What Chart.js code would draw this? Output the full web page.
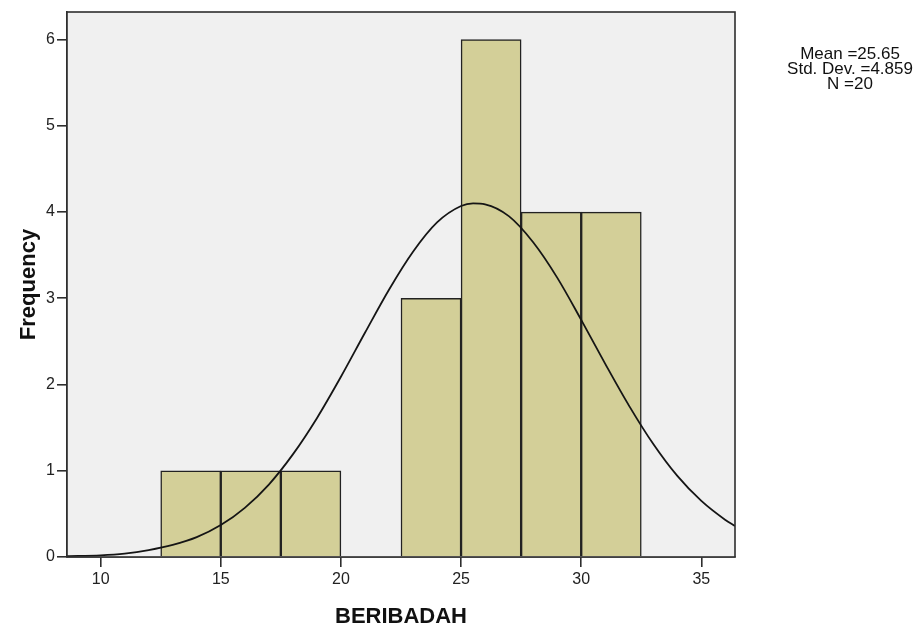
<!DOCTYPE html>
<html>
<head>
<meta charset="utf-8">
<script src="https://cdn.jsdelivr.net/npm/chart.js@4.4.1/dist/chart.umd.min.js"></script>
<style>
  html, body { margin: 0; padding: 0; background: #ffffff; }
  #wrap { width: 924px; height: 630px; position: relative; }
</style>
</head>
<body>
<div id="wrap"><canvas id="chart" width="924" height="630"></canvas></div>
<script>
// Histogram of BERIBADAH scores, bins of width 2.5
const binStarts = [12.5, 15, 17.5, 20, 22.5, 25, 27.5, 30];
const binWidth = 2.5;
const binCounts = [1, 1, 1, 0, 3, 6, 4, 4];

// Fitted normal curve, sampled along the x axis
const curveX = [8.6, 10, 11, 12, 13, 14, 15, 16, 17, 18, 19, 20, 21, 22, 23, 24, 25, 25.5, 26, 27, 28, 29, 30, 31, 32, 33, 34, 35, 36, 36.4];
const curveY = [0.01, 0.02, 0.04, 0.08, 0.14, 0.23, 0.37, 0.57, 0.84, 1.19, 1.61, 2.09, 2.60, 3.10, 3.54, 3.88, 4.07, 4.10, 4.09, 3.95, 3.65, 3.24, 2.75, 2.24, 1.75, 1.31, 0.94, 0.65, 0.43, 0.36];

// Axis ticks
const xTickValues = [10, 15, 20, 25, 30, 35];
const yTickValues = [0, 1, 2, 3, 4, 5, 6];

const statsLines = ['Mean =25.65', 'Std. Dev. =4.859', 'N =20'];

const FONT = '"Liberation Sans", Arial, sans-serif';

const barData = binStarts
  .map((s, i) => ({ x: s + binWidth / 2, y: binCounts[i] }))
  .filter(p => p.y > 0);
const lineData = curveX.map((x, i) => ({ x: x, y: curveY[i] }));

const plotFrame = {
  id: 'plotFrame',
  beforeDatasetsDraw(chart) {
    const { ctx, chartArea: a } = chart;
    ctx.save();
    ctx.fillStyle = '#f0f0f0';
    ctx.fillRect(a.left, a.top, a.right - a.left, a.bottom - a.top);
    ctx.restore();
  },
  afterDatasetsDraw(chart) {
    const { ctx, chartArea: a } = chart;
    ctx.save();
    ctx.strokeStyle = '#2e2e2e';
    ctx.lineWidth = 1.6;
    ctx.strokeRect(a.left, a.top, a.right - a.left, a.bottom - a.top);
    ctx.restore();
  },
  afterDraw(chart) {
    const { ctx } = chart;
    ctx.save();
    ctx.fillStyle = '#111';
    ctx.font = '17px ' + FONT;
    ctx.textAlign = 'center';
    ctx.textBaseline = 'middle';
    statsLines.forEach((t, i) => ctx.fillText(t, 850, 54 + i * 15));
    ctx.restore();
  }
};

new Chart(document.getElementById('chart'), {
  type: 'bar',
  data: {
    datasets: [
      {
        type: 'line',
        data: lineData,
        borderColor: '#151515',
        borderWidth: 1.8,
        pointRadius: 0,
        fill: false,
        cubicInterpolationMode: 'monotone',
        order: 0
      },
      {
        type: 'bar',
        data: barData,
        backgroundColor: '#d3cf98',
        borderColor: '#222222',
        borderWidth: 1.5,
        barPercentage: 1,
        categoryPercentage: 1,
        order: 1
      }
    ]
  },
  options: {
    responsive: false,
    animation: false,
    events: [],
    layout: { padding: { left: 0, top: 12, right: 189, bottom: 0 } },
    plugins: { legend: { display: false }, tooltip: { enabled: false } },
    scales: {
      x: {
        type: 'linear',
        min: 8.6,
        max: 36.4,
        offset: false,
        afterFit(scale) { scale.height = 73; },
        afterBuildTicks(scale) { scale.ticks = xTickValues.map(v => ({ value: v })); },
        grid: { display: true, offset: false, drawOnChartArea: false, drawTicks: true, tickLength: 10, color: '#2e2e2e', lineWidth: 1.6 },
        border: { display: true, color: '#2e2e2e', width: 1.6 },
        ticks: { color: '#222', padding: 3, maxRotation: 0, font: { family: FONT, size: 16 } },
        title: { display: true, text: 'BERIBADAH', color: '#111', padding: { top: 0, bottom: 0 }, font: { family: FONT, size: 22, weight: 'bold' } }
      },
      y: {
        type: 'linear',
        min: 0,
        max: 6.32,
        afterFit(scale) { scale.width = 67; },
        afterBuildTicks(scale) { scale.ticks = yTickValues.map(v => ({ value: v })); },
        grid: { display: true, drawOnChartArea: false, drawTicks: true, tickLength: 10, color: '#2e2e2e', lineWidth: 1.6 },
        border: { display: true, color: '#2e2e2e', width: 1.6 },
        ticks: { color: '#222', padding: 2, font: { family: FONT, size: 16 } },
        title: { display: true, text: 'Frequency', color: '#111', padding: { top: 16, bottom: 0 }, font: { family: FONT, size: 22, weight: 'bold' } }
      }
    }
  },
  plugins: [plotFrame]
});
</script>
</body>
</html>
